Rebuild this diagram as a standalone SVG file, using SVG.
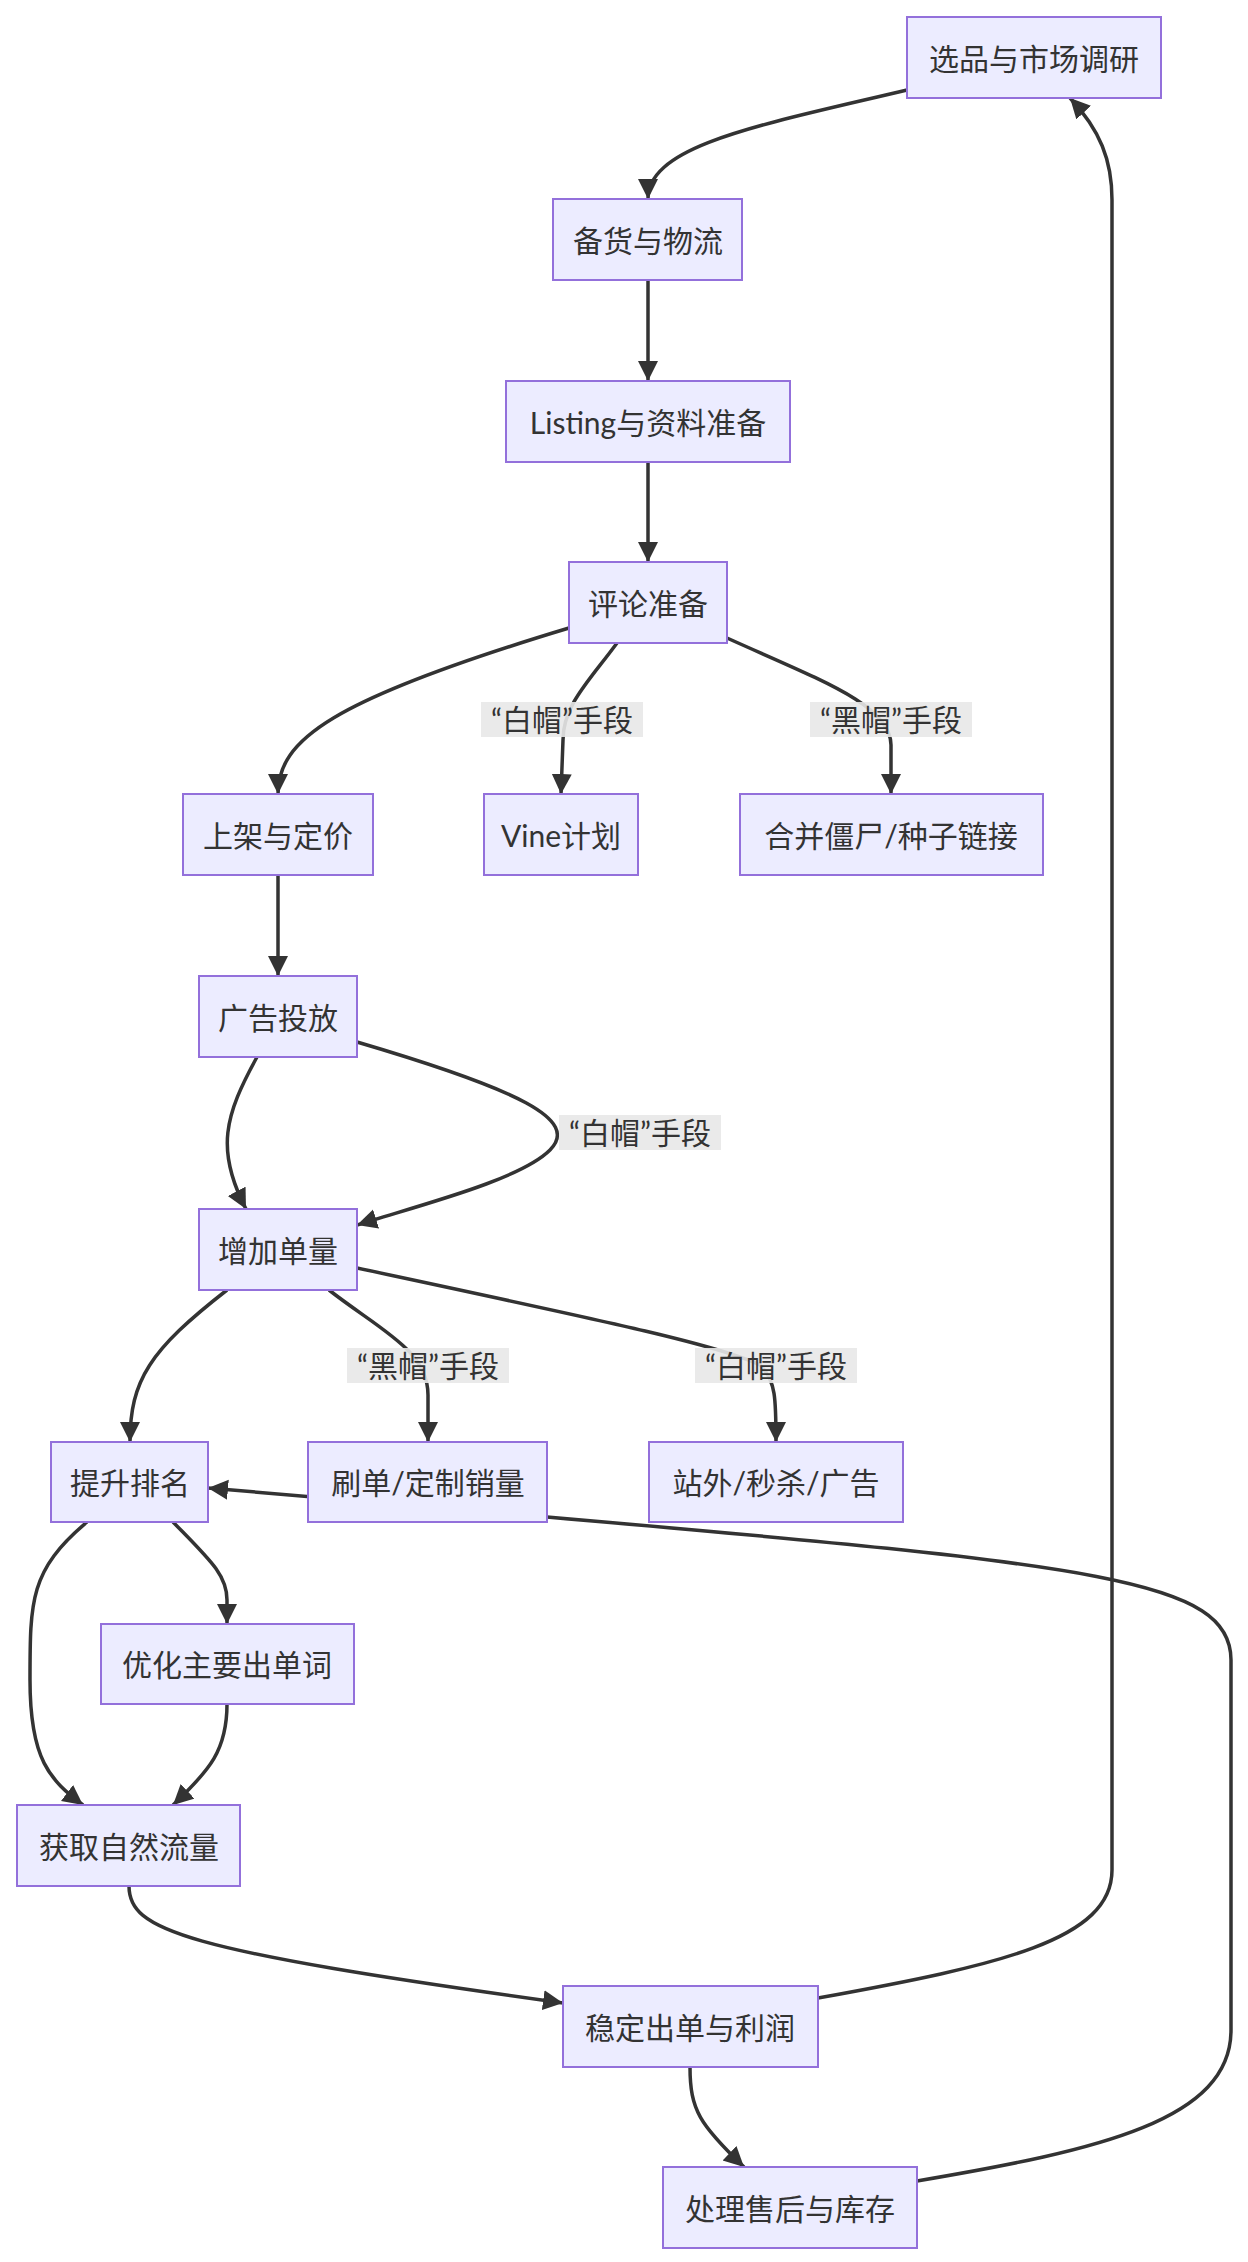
<svg xmlns="http://www.w3.org/2000/svg" width="1248" height="2262" viewBox="0 0 1248 2262">
<defs>
<marker id="arr" markerUnits="userSpaceOnUse" markerWidth="22" markerHeight="22" refX="20" refY="10" orient="auto"><path d="M0,0 L20,10 L0,20 z" fill="#333"/></marker>
<style>
.n rect{fill:#ECECFF;stroke:#9370DB;stroke-width:2}
text{font-family:Lato,"Noto Sans","Noto Sans CJK SC",sans-serif;font-size:30px;fill:#333;text-anchor:middle;dominant-baseline:central}
.e path{fill:none;stroke:#333;stroke-width:3.5;marker-end:url(#arr)}
.lb rect{fill:#e8e8e8;opacity:0.9}
</style>
</defs>
<rect width="1248" height="2262" fill="#fff"/>
<g class="e" id="edges">
<path d="M907,90 C760,125 648,145 648,199"/>
<path d="M648,280 L648,381"/>
<path d="M648,462 L648,562"/>
<path d="M569,628 C330,700 278,740 278,794"/>
<path d="M617,643 C590,680 563,705 563,740 L561,794"/>
<path d="M727,638 C820,680 891,705 891,745 L891,794"/>
<path d="M278,875 L278,976"/>
<path d="M257,1057 C225,1115 215,1150 246,1209"/>
<path d="M357,1042 C520,1090 580,1120 550,1150 C520,1180 420,1205 357,1225"/>
<path d="M227,1290 C150,1350 130,1380 130,1442"/>
<path d="M329,1290 C380,1330 428,1350 428,1395 L428,1442"/>
<path d="M357,1268 C600,1320 720,1345 760,1365 C776,1380 776,1400 776,1442"/>
<path d="M917,2181 C1100,2150 1231,2120 1231,2030 L1231,1660 C1231,1580 1100,1565 547,1517 L208,1488"/>
<path d="M173,1522 C210,1560 227,1575 227,1600 L227,1624"/>
<path d="M87,1522 C30,1570 30,1600 30,1680 C30,1760 50,1780 83,1805"/>
<path d="M227,1704 C227,1750 210,1770 173,1805"/>
<path d="M129,1886 C129,1930 180,1950 563,2003"/>
<path d="M818,1998 C1000,1965 1112,1940 1112,1870 L1112,200 C1112,160 1100,130 1070,98"/>
<path d="M690,2067 C690,2110 700,2125 744,2167"/>
</g>
<g class="lb" id="labels">
<rect x="481" y="702" width="162" height="35"/><text x="562" y="719">“白帽”手段</text>
<rect x="810" y="702" width="162" height="35"/><text x="891" y="719">“黑帽”手段</text>
<rect x="559" y="1115" width="162" height="35"/><text x="640" y="1132">“白帽”手段</text>
<rect x="347" y="1348" width="162" height="35"/><text x="428" y="1365">“黑帽”手段</text>
<rect x="695" y="1348" width="162" height="35"/><text x="776" y="1365">“白帽”手段</text>
</g>
<g class="n" id="A"><rect x="907" y="17" width="254" height="81"/><text x="1034" y="58">选品与市场调研</text></g>
<g class="n" id="B"><rect x="553" y="199" width="189" height="81"/><text x="648" y="240">备货与物流</text></g>
<g class="n" id="C"><rect x="506" y="381" width="284" height="81"/><text x="648" y="422">Listing与资料准备</text></g>
<g class="n" id="D"><rect x="569" y="562" width="158" height="81"/><text x="648" y="603">评论准备</text></g>
<g class="n" id="E"><rect x="183" y="794" width="190" height="81"/><text x="278" y="835">上架与定价</text></g>
<g class="n" id="F"><rect x="484" y="794" width="154" height="81"/><text x="561" y="835">Vine计划</text></g>
<g class="n" id="G"><rect x="740" y="794" width="303" height="81"/><text x="891" y="835">合并僵尸/种子链接</text></g>
<g class="n" id="H"><rect x="199" y="976" width="158" height="81"/><text x="278" y="1017">广告投放</text></g>
<g class="n" id="I"><rect x="199" y="1209" width="158" height="81"/><text x="278" y="1250">增加单量</text></g>
<g class="n" id="J"><rect x="51" y="1442" width="157" height="80"/><text x="130" y="1482">提升排名</text></g>
<g class="n" id="K"><rect x="308" y="1442" width="239" height="80"/><text x="428" y="1482">刷单/定制销量</text></g>
<g class="n" id="L"><rect x="649" y="1442" width="254" height="80"/><text x="776" y="1482">站外/秒杀/广告</text></g>
<g class="n" id="M"><rect x="101" y="1624" width="253" height="80"/><text x="227" y="1664">优化主要出单词</text></g>
<g class="n" id="N"><rect x="17" y="1805" width="223" height="81"/><text x="129" y="1846">获取自然流量</text></g>
<g class="n" id="O"><rect x="563" y="1986" width="255" height="81"/><text x="690" y="2027">稳定出单与利润</text></g>
<g class="n" id="P"><rect x="663" y="2167" width="254" height="81"/><text x="790" y="2208">处理售后与库存</text></g>
</svg>
